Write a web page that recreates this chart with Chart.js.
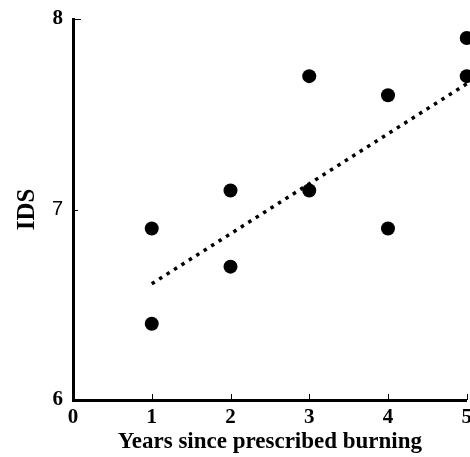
<!DOCTYPE html>
<html>
<head>
<meta charset="utf-8">
<script src="https://cdn.jsdelivr.net/npm/chart.js@4/dist/chart.umd.min.js"></script>
<style>
  html, body { margin: 0; padding: 0; background: #fff; overflow: hidden; }
  /* a little wider than the window so the last tick sits at the edge, like the original */
  #wrap { width: 477px; height: 457px; position: relative; }
</style>
</head>
<body>
<div id="wrap"><canvas id="chart"></canvas></div>
<script>
// Data
const years = [1, 1, 2, 2, 3, 3, 4, 4, 5, 5];
const idsValues = [6.9, 6.4, 7.1, 6.7, 7.7, 7.1, 7.6, 6.9, 7.9, 7.7];
const trendYears = [1, 5];
const trendValues = [6.61, 7.66];
const xTicks = [0, 1, 2, 3, 4, 5];
const yTicks = [6, 7, 8];

const serif = 'Liberation Serif, Times New Roman, serif';

function toPoints(xs, ys) {
    return xs.map(function(x, i) { return { x: x, y: ys[i] }; });
}

// Small inward tick marks along the two axes
const innerTicks = {
    id: 'innerTicks',
    afterDraw: function(chart) {
        const ctx = chart.ctx;
        const xs = chart.scales.x;
        const ys = chart.scales.y;
        const area = chart.chartArea;
        ctx.save();
        ctx.strokeStyle = '#000';
        ctx.lineWidth = 1;
        ctx.beginPath();
        xTicks.slice(1).forEach(function(v) {
            const px = Math.round(xs.getPixelForValue(v)) + 0.5;
            ctx.moveTo(px, area.bottom);
            ctx.lineTo(px, area.bottom - 6);
        });
        yTicks.slice(1).forEach(function(v) {
            const py = Math.round(ys.getPixelForValue(v)) + 0.5;
            ctx.moveTo(area.left, py);
            ctx.lineTo(area.left + (v === 8 ? 8 : 5), py);
        });
        ctx.stroke();
        ctx.restore();
    }
};

new Chart(document.getElementById('chart'), {
    type: 'scatter',
    data: {
        datasets: [{
            label: 'trend',
            type: 'line',
            data: toPoints(trendYears, trendValues),
            borderColor: '#000',
            borderWidth: 3.5,
            borderDash: [3.5, 5.3],
            borderCapStyle: 'butt',
            pointRadius: 0,
            fill: false,
            clip: false
        }, {
            label: 'IDS',
            data: toPoints(years, idsValues),
            backgroundColor: '#000',
            borderWidth: 0,
            pointRadius: 7,
            clip: false
        }, {
            label: 'centre',
            data: toPoints(years, idsValues),
            backgroundColor: '#fff',
            borderWidth: 0,
            pointRadius: 0.9,
            clip: false
        }]
    },
    options: {
        responsive: true,
        maintainAspectRatio: false,
        animation: false,
        layout: { padding: { top: 19, right: 0, left: 0, bottom: 0 } },
        plugins: {
            legend: { display: false },
            tooltip: { enabled: false }
        },
        scales: {
            x: {
                type: 'linear',
                min: 0,
                max: 5,
                afterFit: function(s) {
                    s.height = 57;
                },
                afterBuildTicks: function(s) {
                    s.ticks = xTicks.map(function(v) { return { value: v }; });
                },
                grid: { display: false, drawTicks: false },
                border: { display: true, color: '#000', width: 3 },
                ticks: {
                    padding: 5,
                    color: '#000',
                    maxRotation: 0,
                    font: { family: serif, size: 21, weight: 'bold' }
                },
                title: {
                    display: true,
                    text: 'Years since prescribed burning',
                    color: '#000',
                    padding: { top: 0, bottom: 1 },
                    font: { family: serif, size: 23, weight: 'bold' }
                }
            },
            y: {
                type: 'linear',
                min: 6,
                max: 8,
                afterFit: function(s) {
                    s.width = 73;
                    s.paddingTop = 0;
                    s.paddingBottom = 0;
                },
                afterBuildTicks: function(s) {
                    s.ticks = yTicks.map(function(v) { return { value: v }; });
                },
                grid: { display: false, drawTicks: false },
                border: { display: true, color: '#000', width: 3 },
                ticks: {
                    padding: 10,
                    color: '#000',
                    font: function(c) {
                        if (c.tick && c.tick.value === 7) {
                            return { family: 'Liberation Sans, Arial, sans-serif', size: 20, weight: 'normal' };
                        }
                        return { family: serif, size: 21, weight: 'bold' };
                    }
                },
                title: {
                    display: true,
                    text: 'IDS',
                    color: '#000',
                    padding: { top: 13, bottom: 0 },
                    font: { family: serif, size: 25, weight: 'bold' }
                }
            }
        }
    },
    plugins: [innerTicks]
});
</script>
</body>
</html>
